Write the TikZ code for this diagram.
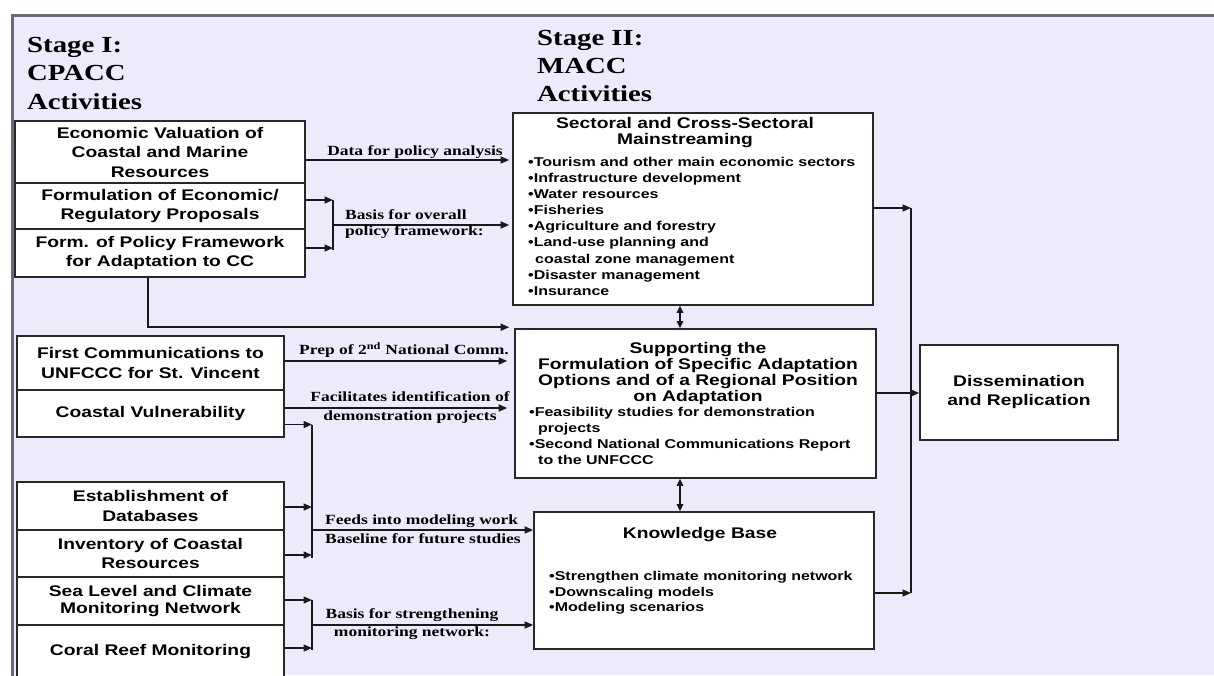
\documentclass[tikz,border=0pt]{standalone}
\usepackage{fontspec}
\setmainfont{Liberation Serif}[FakeStretch=1.25]
\setsansfont{Liberation Sans}[FakeStretch=1.25]
\usetikzlibrary{arrows.meta,calc}
\definecolor{bg}{RGB}{235,235,252}
\definecolor{framec}{RGB}{105,108,120}
\definecolor{boxc}{RGB}{40,40,40}
\begin{document}
\begin{tikzpicture}[x=1pt,y=-1pt,
  box/.style={draw=boxc,line width=1.6pt,fill=white,inner sep=0pt,align=center,font=\sffamily\bfseries\fontsize{15.4}{19.5}\selectfont},
  ttl/.style={inner sep=0pt,align=center,font=\sffamily\bfseries\fontsize{15.4}{16.5}\selectfont},
  bul/.style={inner sep=0pt,align=left,anchor=north west,font=\sffamily\bfseries\fontsize{12.8}{16.1}\selectfont},
  lab/.style={inner sep=0pt,font=\rmfamily\bfseries\fontsize{14}{18}\selectfont},
  stage/.style={inner sep=0pt,align=left,anchor=north west,font=\rmfamily\bfseries\fontsize{23}{28.5}\selectfont},
  arr/.style={line width=1.5pt,draw=black!90,-{Triangle[length=8.5pt,width=7pt]}},
  ln/.style={line width=1.5pt,draw=black!90},
  darr/.style={line width=1.5pt,draw=black!90,{Triangle[length=7pt,width=6.5pt]}-{Triangle[length=7pt,width=6.5pt]}}
]
\useasboundingbox (0,0) rectangle (1214,675);
\fill[white] (0,0) rectangle (1214,675);
\fill[bg] (12,15) rectangle (1214,675);
\draw[framec,line width=3pt] (12,676) -- (12,15) -- (1214,15);

% stage titles
\node[stage] (s1) at (27,37) {Stage I:\\CPACC\\Activities};
\node[stage,font=\rmfamily\bfseries\fontsize{23}{28}\selectfont] (s2) at (537,30) {Stage II:\\MACC\\Activities};

% left boxes
\node[box,minimum width=290pt,minimum height=62pt] (ev) at (160,152) {Economic Valuation of\\Coastal and Marine\\Resources};
\node[box,minimum width=290pt,minimum height=46pt] (fe) at (160,206) {Formulation of Economic/\\Regulatory Proposals};
\node[box,minimum width=290pt,minimum height=48pt] (fp) at (160,253) {Form. of Policy Framework\\for Adaptation to CC};

\node[box,minimum width=267pt,minimum height=54pt] (fc) at (150.5,363) {First Communications to\\UNFCCC for St. Vincent};
\node[box,minimum width=267pt,minimum height=47pt] (cv) at (150.5,413.5) {Coastal Vulnerability};
\node[box,minimum width=267pt,minimum height=48pt] (ed) at (150.5,506) {Establishment of\\Databases};
\node[box,minimum width=267pt,minimum height=47pt] (ic) at (150.5,553.5) {Inventory of Coastal\\Resources};
\node[box,minimum width=267pt,minimum height=48pt,font=\sffamily\bfseries\fontsize{15.4}{17}\selectfont] (sl) at (150.5,601) {Sea Level and Climate\\Monitoring Network};
\node[box,minimum width=267pt,minimum height=54pt] (cr) at (150.5,652) {Coral Reef Monitoring};

% right boxes
\node[box,minimum width=360pt,minimum height=192pt] (sec) at (693,209) {};
\node[ttl,anchor=north] (sect) at (685,117) {Sectoral and Cross-Sectoral\\Mainstreaming};
\node[bul] (secb) at (528,157) {•Tourism and other main economic sectors\\•Infrastructure development\\•Water resources\\•Fisheries\\•Agriculture and forestry\\•Land-use planning and\\\hspace*{7pt}coastal zone management\\•Disaster management\\•Insurance};

\node[box,minimum width=361pt,minimum height=149pt] (sup) at (695.5,403.5) {};
\node[ttl,anchor=north,font=\sffamily\bfseries\fontsize{15.4}{16}\selectfont] (supt) at (698,342) {Supporting the\\Formulation of Specific Adaptation\\Options and of a Regional Position\\on Adaptation};
\node[bul] (supb) at (529,407) {•Feasibility studies for demonstration\\\hspace*{9pt}projects\\•Second National Communications Report\\\hspace*{9pt}to the UNFCCC};

\node[box,minimum width=340pt,minimum height=137pt] (kb) at (704,580.5) {};
\node[ttl,anchor=north] (kbt) at (700,527) {Knowledge Base};
\node[bul,font=\sffamily\bfseries\fontsize{12.8}{15.7}\selectfont] (kbb) at (549,571) {•Strengthen climate monitoring network\\•Downscaling models\\•Modeling scenarios};

\node[box,minimum width=198pt,minimum height=95pt,font=\sffamily\bfseries\fontsize{15.4}{19}\selectfont] (dr) at (1019,392.5) {Dissemination\\and Replication};

% junction coordinates
\coordinate (b1) at (333,225);
\coordinate (b2) at (312,530);
\coordinate (b3) at (312,625);
\coordinate (cx) at (911,393);

% Stage I group 1
\draw[arr] ($(ev.east)+(0,8)$) -- ($(ev.east -| sec.west)+(-3,8)$);
\draw[arr] ($(fe.east)+(0,-6)$) -- ($(fe.east -| b1)+(0,-6)$);
\draw[arr] ($(fp.east)+(0,-5)$) -- ($(fp.east -| b1)+(0,-5)$);
\draw[ln] ($(fe.east -| b1)+(0,-6)$) -- ($(fp.east -| b1)+(0,-3)$);
\draw[arr] (b1) -- ($(b1 -| sec.west)+(-3,0)$);
\draw[arr] ($(fp.south)+(-12,0)$) |- ($(sup.north west)+(-5,-1)$);

% group 2
\draw[arr] ($(fc.east)+(0,-2)$) -- ($(fc.east -| sup.west)+(-7,-2)$);
\draw[arr] ($(cv.east)+(0,-5.5)$) -- ($(cv.east -| sup.west)+(-7,-5.5)$);
\draw[arr] ($(cv.east)+(0,11)$) -- ($(cv.east -| b2)+(0,11)$);
\draw[arr] ($(ed.east)+(0,1)$) -- ($(ed.east -| b2)+(0,1)$);
\draw[arr] ($(ic.east)+(0,1.5)$) -- ($(ic.east -| b2)+(0,1.5)$);
\draw[ln] ($(cv.east -| b2)+(0,11)$) -- ($(ic.east -| b2)+(0,4)$);
\draw[arr] (b2) -- (b2 -| kb.west);
\draw[arr] ($(sl.east)+(0,-1)$) -- ($(sl.east -| b3)+(0,-1)$);
\draw[arr] ($(cr.east)+(0,-4)$) -- ($(cr.east -| b3)+(0,-4)$);
\draw[ln] ($(sl.east -| b3)+(0,-1)$) -- ($(cr.east -| b3)+(0,-2)$);
\draw[arr] (b3) -- (b3 -| kb.west);

% right side
\draw[arr] ($(sec.east)+(0,-1)$) -- ($(sec.east -| cx)+(0,-1)$);
\draw[arr] ($(kb.east)+(0,12.5)$) -- ($(kb.east -| cx)+(0,12.5)$);
\draw[ln] ($(sec.east -| cx)+(0,-1)$) -- ($(kb.east -| cx)+(0,12.5)$);
\draw[arr] ($(sup.east)+(0,-10.5)$) -- ($(sup.east -| dr.west)+(0,-10.5)$);

\draw[darr] ($(sec.south)+(-13,0)$) -- ($(sec.south |- sup.north)+(-13,0)$);
\draw[darr] ($(sup.south)+(-15.5,0)$) -- ($(sup.south |- kb.north)+(-15.5,0)$);

% labels
\node[lab] (l1) at (415,152) {Data for policy analysis};
\node[lab,align=left,anchor=west,font=\rmfamily\bfseries\fontsize{14}{16.5}\selectfont] (l2) at (345,224) {Basis for overall\\policy framework:};
\node[lab] (l3) at (404,350) {Prep of 2\textsuperscript{nd} National Comm.};
\node[lab,align=center,font=\rmfamily\bfseries\fontsize{14}{19}\selectfont] (l4) at (410,408) {Facilitates identification of\\demonstration projects};
\node[lab,align=left,anchor=west,font=\rmfamily\bfseries\fontsize{14}{19}\selectfont] (l5) at (325,529) {Feeds into modeling work\\Baseline for future studies};
\node[lab,align=center] (l6) at (412,624) {Basis for strengthening\\monitoring network:};
\end{tikzpicture}
\end{document}
